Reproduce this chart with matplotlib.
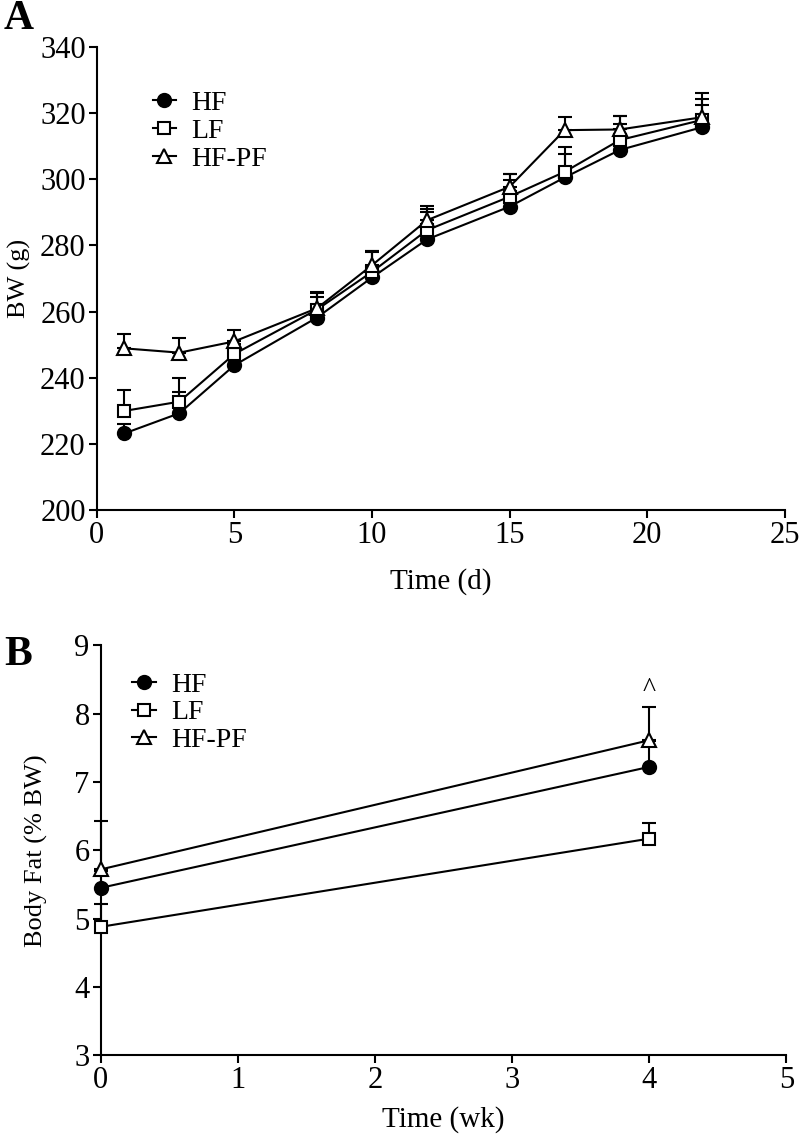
import numpy as np
import matplotlib
matplotlib.use("Agg")
import matplotlib.pyplot as plt
from matplotlib.lines import Line2D

plt.rcParams['font.family'] = ['Liberation Serif', 'DejaVu Serif']

# --- Panel A: body weight (g) by day ---
days = [1, 3, 5, 8, 10, 12, 15, 17, 19, 22]
hf_bw = [223.2, 229.3, 243.8, 258.2, 270.3, 281.8, 291.7, 300.5, 308.8, 315.7]
hf_bw_err = [3.0, 6.5, 2.0, 6.3, 7.8, 8.3, 8.0, 7.0, 8.0, 8.5]
lf_bw = [230.0, 232.8, 247.2, 260.6, 272.0, 284.6, 294.7, 302.2, 311.8, 317.9]
lf_bw_err = [6.2, 7.2, 3.0, 5.1, 6.3, 6.5, 7.0, 7.6, 7.2, 8.0]
pf_bw = [248.9, 247.6, 251.0, 261.0, 274.0, 287.6, 297.7, 314.8, 315.0, 318.7]
pf_bw_err = [4.2, 4.5, 3.4, 4.8, 4.3, 4.4, 4.0, 4.1, 4.0, 3.7]

# --- Panel B: body fat (% BW) by week ---
weeks = [0, 4]
hf_fat = [5.45, 7.22]
hf_fat_err = [0.25, 0.38]
lf_fat = [4.88, 6.17]
lf_fat_err = [0.33, 0.23]
pf_fat = [5.72, 7.61]
pf_fat_err = [0.71, 0.49]

groups = ['HF', 'LF', 'HF-PF']
styles = {
    'HF': dict(marker='o', mfc='black', ms=9.5),
    'LF': dict(marker='s', mfc='white', ms=8.5),
    'HF-PF': dict(marker='^', mfc='white', ms=10),
}

LW = 1.5
TICK_FS = 22
LABEL_FS = 21

fig = plt.figure(figsize=(8, 11.39), dpi=100)
axA = fig.add_axes([0.121, 0.552, 0.860, 0.407])
axB = fig.add_axes([0.126, 0.0735, 0.857, 0.360])


def draw(ax, x, series, clip=True):
    # error bars (upper half only) first, then lines + markers on top
    for name, y, err in series:
        ax.errorbar(x, y, yerr=[np.zeros(len(err)), err], fmt='none',
                    ecolor='black', elinewidth=LW, capsize=5, capthick=LW,
                    zorder=2, clip_on=clip)
    for name, y, err in series:
        st = styles[name]
        ax.plot(x, y, color='black', lw=LW, marker=st['marker'], ms=st['ms'],
                mfc=st['mfc'], mec='black', mew=LW, zorder=3, clip_on=clip)


def style_axes(ax):
    for s in ['top', 'right']:
        ax.spines[s].set_visible(False)
    for s in ['left', 'bottom']:
        ax.spines[s].set_linewidth(LW)
    ax.tick_params(direction='out', length=6, width=LW, labelsize=TICK_FS, pad=2)


def add_legend(ax, anchor):
    handles = []
    for name in groups:
        st = styles[name]
        handles.append(Line2D([], [], color='black', lw=LW, marker=st['marker'],
                              ms=st['ms'], mfc=st['mfc'], mec='black', mew=LW))
    ax.legend(handles, groups, loc='upper left', bbox_to_anchor=anchor,
              frameon=False, fontsize=20, handlelength=0.85, handletextpad=0.55,
              labelspacing=0.08, borderpad=0, borderaxespad=0)


# Panel A
draw(axA, days, [('HF', hf_bw, hf_bw_err), ('LF', lf_bw, lf_bw_err),
                 ('HF-PF', pf_bw, pf_bw_err)])
axA.set_xlim(0, 25)
axA.set_ylim(200, 340)
axA.set_xticks(range(0, 26, 5))
axA.set_yticks(range(200, 341, 20))
style_axes(axA)
axA.set_xlabel('Time (d)', fontsize=LABEL_FS, labelpad=13)
axA.set_ylabel('BW (g)', fontsize=19)
axA.yaxis.set_label_coords(-0.096, 0.5)
add_legend(axA, (0.081, 0.905))

# Panel B
draw(axB, weeks, [('HF', hf_fat, hf_fat_err), ('LF', lf_fat, lf_fat_err),
                  ('HF-PF', pf_fat, pf_fat_err)], clip=False)
axB.set_xlim(0, 5)
axB.set_ylim(3, 9)
axB.set_xticks(range(0, 6))
axB.set_yticks(range(3, 10))
style_axes(axB)
axB.set_xlabel('Time (wk)', fontsize=LABEL_FS, labelpad=8)
axB.set_ylabel('Body Fat (% BW)', fontsize=19)
axB.yaxis.set_label_coords(-0.077, 0.5)
add_legend(axB, (0.046, 0.934))
axB.text(4, 8.35, '^', ha='center', va='center', fontsize=20)

# panel letters
fig.text(0.005, 0.983, 'A', fontsize=30, fontweight='bold', va='center')
fig.text(0.005, 0.425, 'B', fontsize=30, fontweight='bold', va='center')

fig.savefig('out.png', dpi=100)
